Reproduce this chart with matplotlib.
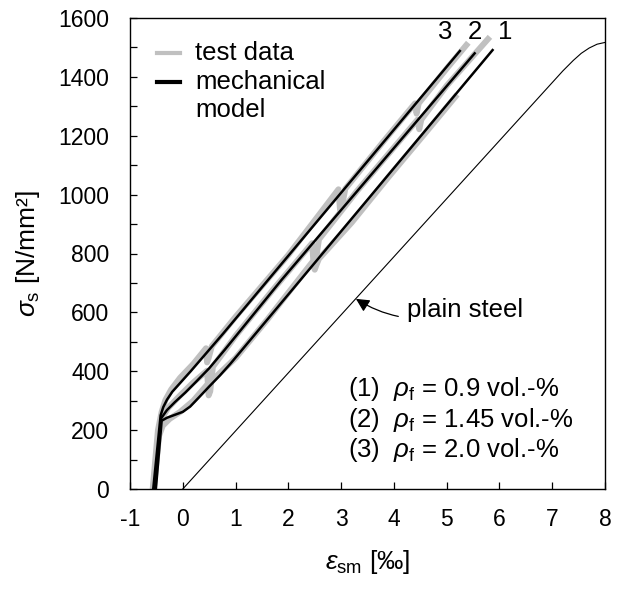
import matplotlib
matplotlib.use("Agg")
import matplotlib.pyplot as plt

plt.rcParams["font.family"] = ["Liberation Sans", "DejaVu Sans"]
plt.rcParams["mathtext.fontset"] = "custom"
plt.rcParams["mathtext.rm"] = "Liberation Sans"
plt.rcParams["mathtext.it"] = "Liberation Sans:italic"
plt.rcParams["axes.unicode_minus"] = False

# Versuchsdaten (Stahldehnung in Promille, Stahlspannung in N/mm2)
test1_eps = [-0.55, -0.45, -0.38, -0.25, -0.05, 0.20, 0.45, 0.62, 1.0, 1.6,
             2.45, 2.50, 2.53, 2.58, 3.2, 3.9, 4.6, 5.2]
test1_sig = [0, 180, 215, 238, 262, 300, 352, 380, 445, 575,
             770, 745, 760, 782, 905, 1060, 1210, 1340]

test2_eps = [-0.56, -0.46, -0.38, -0.28, -0.05, 0.20, 0.46, 0.49, 0.52, 0.57,
             1.0, 1.7, 2.45, 2.48, 2.52, 2.58, 3.3, 4.45, 4.48, 4.52, 5.0, 5.82]
test2_sig = [0, 190, 245, 275, 318, 362, 402, 318, 332, 415,
             520, 675, 835, 760, 775, 848, 1012, 1255, 1222, 1255, 1370, 1536]

test3_eps = [-0.57, -0.47, -0.40, -0.33, -0.22, -0.05, 0.20, 0.44, 0.46, 0.49,
             0.55, 1.0, 2.0, 2.95, 2.98, 3.02, 3.08, 3.8, 4.40, 4.43, 4.47, 5.0, 5.41]
test3_sig = [0, 200, 262, 302, 338, 378, 425, 478, 430, 445,
             485, 585, 795, 1018, 948, 965, 1020, 1180, 1310, 1275, 1310, 1428, 1516]

# mechanisches Modell
model1_eps = [-0.51, -0.40, -0.30, -0.15, 0.0, 0.14, 0.30, 0.50, 0.70, 0.90, 5.87]
model1_sig = [0, 232, 242, 252, 262, 280, 310, 348, 385, 425, 1491]

model2_eps = [-0.535, -0.41, -0.30, -0.15, 0.05, 0.25, 0.50, 0.80, 1.87, 5.53]
model2_sig = [0, 240, 268, 295, 328, 364, 410, 474, 710, 1480]

model3_eps = [-0.56, -0.42, -0.37, -0.30, -0.20, -0.05, 0.15, 0.40, 0.77, 5.25]
model3_sig = [0, 250, 278, 303, 330, 360, 400, 452, 529, 1488]

# reiner Stahl
steel_eps = [0.0, 7.2, 7.4, 7.55, 7.7, 7.85, 8.0]
steel_sig = [0, 1420, 1456, 1480, 1498, 1511, 1517]

curve_ids = ["3", "2", "1"]
curve_id_eps = [4.97, 5.53, 6.10]
fibre_labels = [r"(1)  $\rho_{\rm f}$ = 0.9 vol.-%",
                r"(2)  $\rho_{\rm f}$ = 1.45 vol.-%",
                r"(3)  $\rho_{\rm f}$ = 2.0 vol.-%"]

grey = "#c0c0c0"
fs = 18.5

fig = plt.figure(figsize=(6.23, 5.92), dpi=100)
ax = fig.add_axes([130 / 623, 103 / 592, 475 / 623, 471 / 592])

for e, s in [(test1_eps, test1_sig), (test2_eps, test2_sig), (test3_eps, test3_sig)]:
    ax.plot(e, s, color=grey, lw=4.3, solid_capstyle="butt", solid_joinstyle="round")
for e, s in [(model1_eps, model1_sig), (model2_eps, model2_sig), (model3_eps, model3_sig)]:
    ax.plot(e, s, color="black", lw=1.8, solid_joinstyle="round")
ax.plot(steel_eps, steel_sig, color="black", lw=0.8)

ax.set_xlim(-1, 8)
ax.set_ylim(0, 1600)
ax.set_xticks(range(-1, 9))
ax.set_yticks(range(0, 1601, 200))
ax.set_yticks(range(100, 1600, 200), minor=True)
ax.tick_params(axis="both", which="both", direction="in", length=5, width=0.9,
               labelsize=16.5, top=False, right=False)
ax.tick_params(axis="x", pad=14)
ax.tick_params(axis="y", pad=15)
for sp in ax.spines.values():
    sp.set_linewidth(1.0)

ax.set_xlabel(r"$\varepsilon_{\rm sm}$ [‰]", fontsize=19)
ax.set_ylabel(r"$\sigma_{\rm s}$ [N/mm²]", fontsize=19)
ax.xaxis.set_label_coords(0.5, -0.125)
ax.yaxis.set_label_coords(-0.185, 0.5)

# Legende
ax.plot([0.056, 0.105], [0.925, 0.925], color=grey, lw=3, transform=ax.transAxes)
ax.plot([0.056, 0.105], [0.865, 0.865], color="black", lw=3, transform=ax.transAxes)
ax.text(0.137, 0.925, "test data", fontsize=fs, va="center", transform=ax.transAxes)
ax.text(0.137, 0.865, "mechanical", fontsize=fs, va="center", transform=ax.transAxes)
ax.text(0.137, 0.805, "model", fontsize=fs, va="center", transform=ax.transAxes)

for lab, x in zip(curve_ids, curve_id_eps):
    ax.text(x, 1553, lab, fontsize=fs, ha="center", va="center")

ax.annotate("plain steel", xy=(3.28, 646), xytext=(4.24, 608), fontsize=fs,
            va="center", ha="left",
            arrowprops=dict(arrowstyle="-|>", color="black", lw=0.9,
                            mutation_scale=20, shrinkA=4, shrinkB=0,
                            connectionstyle="arc3,rad=-0.25"))

for lab, y in zip(fibre_labels, [340, 236, 134]):
    ax.text(3.13, y, lab, fontsize=fs, va="center", ha="left")

fig.savefig("out.png", dpi=100)
